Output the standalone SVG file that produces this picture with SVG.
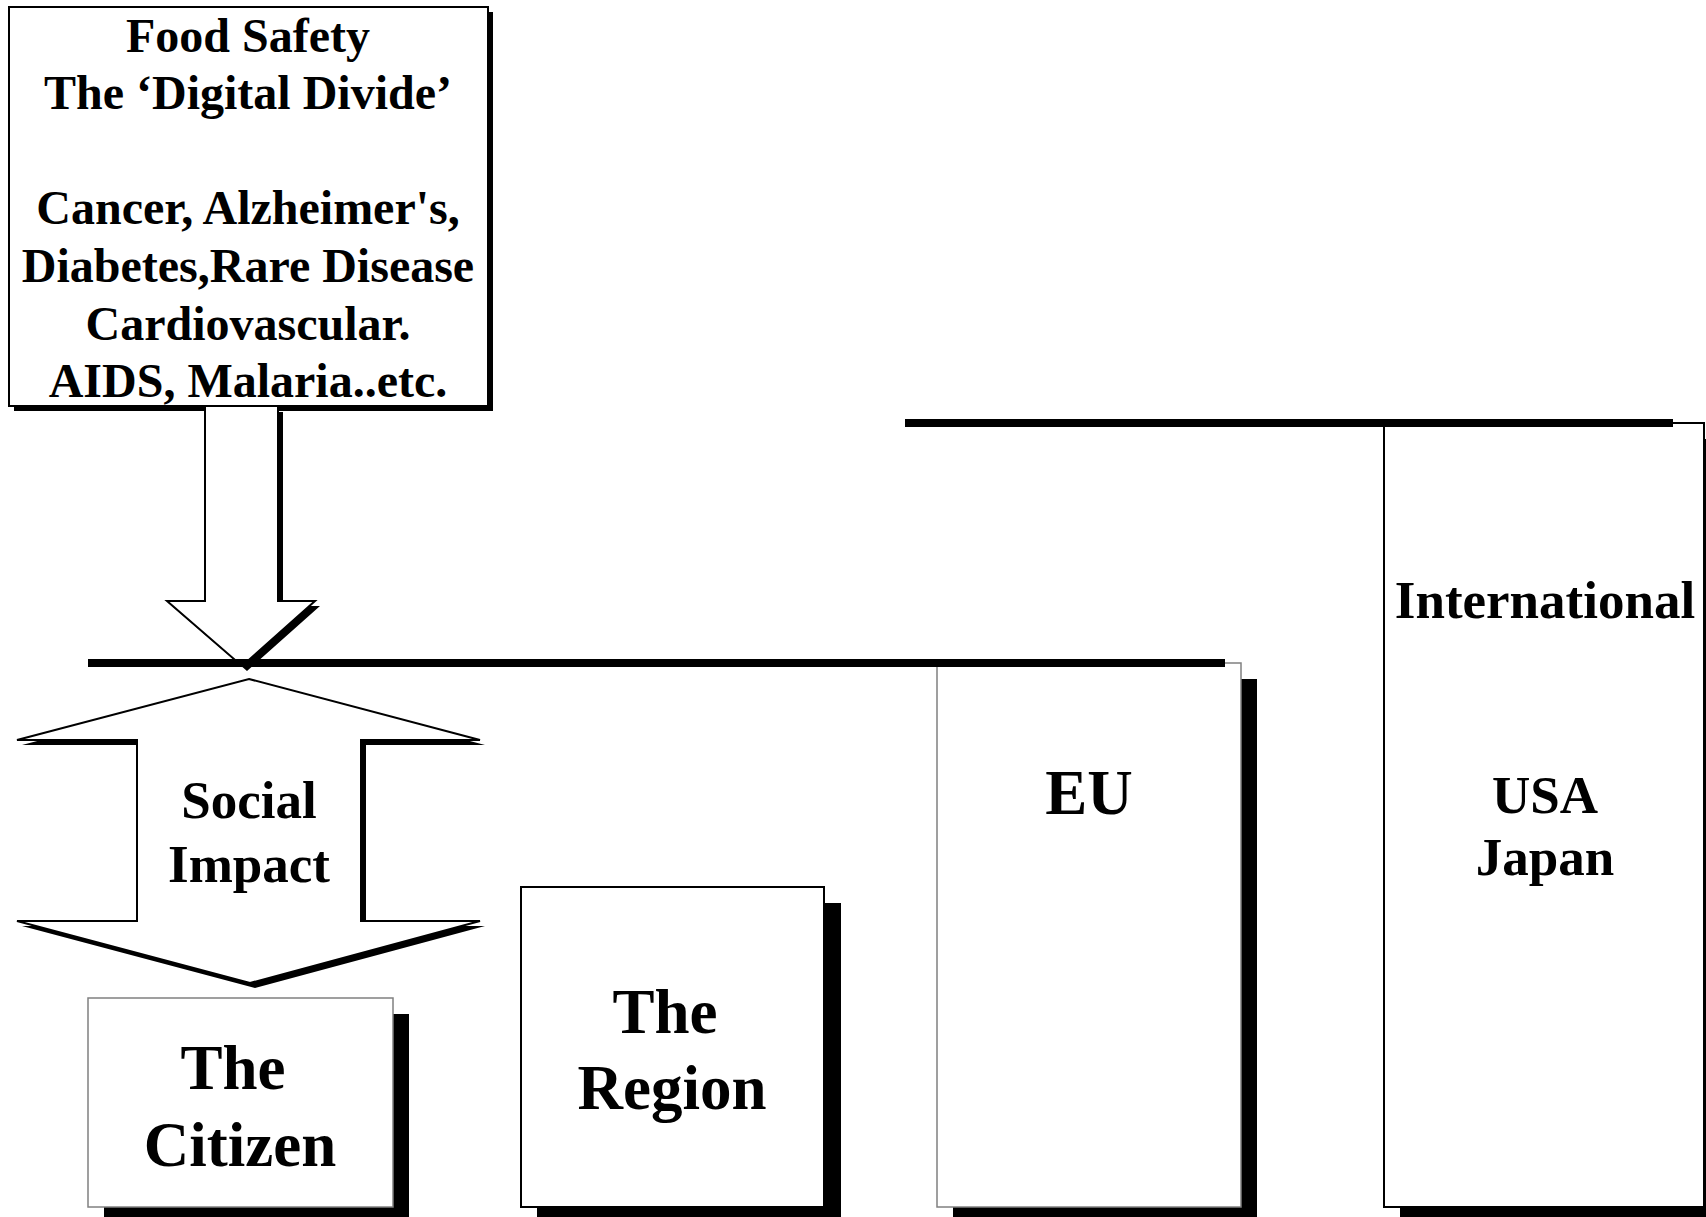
<svg xmlns="http://www.w3.org/2000/svg" width="1706" height="1217" viewBox="0 0 1706 1217">
<style>
.bg{fill:#ffffff}
.sh{fill:#000000}
.box{fill:#ffffff;stroke:#000000;stroke-width:2}
.gbox{fill:#ffffff;stroke:#808080;stroke-width:1.5}
.arw{fill:#ffffff;stroke:#000000;stroke-width:2;stroke-linejoin:miter}
.bar{stroke:#000000;stroke-width:8;fill:none}
.t{font-family:"Liberation Serif","Times New Roman",serif;font-weight:bold;fill:#000000;text-anchor:middle}
.t48{font-size:48px}
.t53{font-size:53px}
.t63{font-size:63px}
</style>
<rect class="bg" x="0" y="0" width="1706" height="1217"/>

<g id="node-sources">
  <rect class="sh" x="14" y="12" width="479" height="399"/>
  <rect class="box" x="9" y="7" width="479" height="399"/>
  <text class="t t48" x="248" y="52">Food Safety</text>
  <text class="t t48" x="248" y="109">The ‘Digital Divide’</text>
  <text class="t t48" x="248" y="224">Cancer, Alzheimer's,</text>
  <text class="t t48" x="248" y="282">Diabetes,Rare Disease</text>
  <text class="t t48" x="248" y="340">Cardiovascular.</text>
  <text class="t t48" x="248" y="397">AIDS, Malaria..etc.</text>
</g>

<g id="node-international">
  <rect class="sh" x="1400" y="439" width="320" height="785"/>
  <rect class="box" x="1384" y="423" width="320" height="784" stroke-width="1.5"/>
  <text class="t t53" x="1545" y="618">International</text>
  <text class="t t53" x="1545" y="813">USA</text>
  <text class="t t53" x="1545" y="875">Japan</text>
</g>

<g id="node-eu">
  <rect class="sh" x="953" y="679" width="304" height="545"/>
  <rect class="gbox" x="937" y="663" width="304" height="544"/>
  <text class="t t63" x="1089" y="814">EU</text>
</g>

<g id="node-region">
  <rect class="sh" x="537" y="903" width="304" height="321"/>
  <rect class="box" x="521" y="887" width="303" height="320" stroke-width="1.5"/>
  <text class="t t63" x="665" y="1033">The</text>
  <text class="t t63" x="672" y="1109">Region</text>
</g>

<g id="node-citizen">
  <rect class="sh" x="104" y="1014" width="305" height="210"/>
  <rect class="gbox" x="88" y="998" width="305" height="209"/>
  <text class="t t63" x="233" y="1089">The</text>
  <text class="t t63" x="240" y="1166">Citizen</text>
</g>

<g id="node-social-impact">
  <polygon class="sh" points="254,684 485,745 366,745 366,926 485,926 255,988 22,926 142,926 142,745 22,745"/>
  <polygon class="arw" points="249,679 480,740 361,740 361,921 480,921 250,983 17,921 137,921 137,740 17,740"/>
  <text class="t t53" x="249" y="818">Social</text>
  <text class="t t53" x="249" y="882">Impact</text>
</g>

<g id="connectors">
  <polygon class="sh" points="210,412 283,412 283,606 320,606 247,671 172,606 210,606"/>
  <polygon class="arw" points="205,406 278,406 278,601 315,601 242,666 167,601 205,601"/>
  <line class="bar" x1="88" y1="663" x2="1225" y2="663"/>
  <line class="bar" x1="905" y1="423" x2="1673" y2="423"/>
</g>
</svg>
